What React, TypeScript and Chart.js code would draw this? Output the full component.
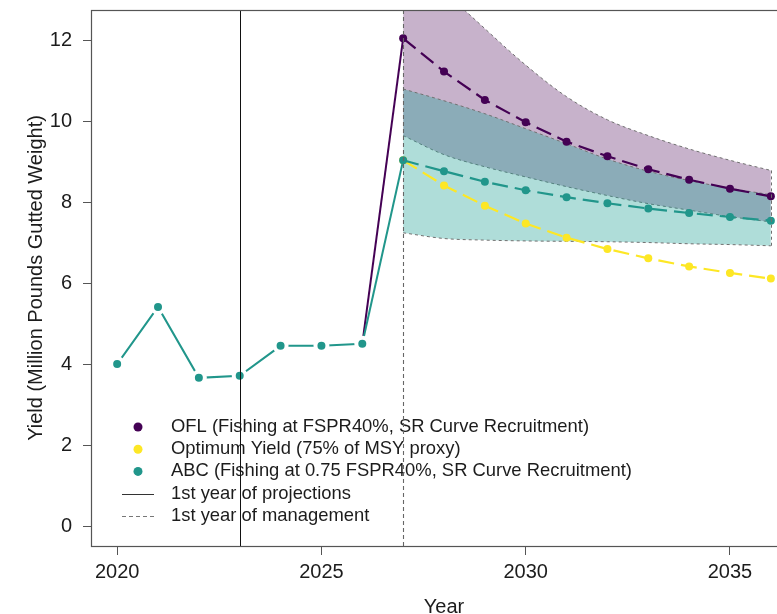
import React, { useEffect, useRef } from "react";
import { Chart, registerables } from "chart.js";

Chart.register(...registerables);

// ---------- data ----------
const HIST_YEARS = [2020, 2021, 2022, 2023, 2024, 2025, 2026];
const ABC_HIST = [4.02, 5.43, 3.68, 3.73, 4.47, 4.47, 4.52];

const PROJ_YEARS = [2027, 2028, 2029, 2030, 2031, 2032, 2033, 2034, 2035, 2036];
const OFL_PROJ = [12.06, 11.24, 10.54, 9.99, 9.51, 9.15, 8.83, 8.57, 8.35, 8.16];
const ABC_PROJ = [9.05, 8.78, 8.52, 8.31, 8.14, 7.99, 7.86, 7.75, 7.65, 7.56];
const OY_PROJ = [9.05, 8.43, 7.93, 7.49, 7.14, 6.86, 6.63, 6.43, 6.27, 6.13];

const OFL_UPPER = [14.4, 13.25, 12.3, 11.4, 10.62, 10.05, 9.66, 9.33, 9.05, 8.8];
const OFL_LOWER = [9.66, 9.19, 8.89, 8.64, 8.4, 8.18, 7.98, 7.82, 7.66, 7.53];
const ABC_UPPER = [10.81, 10.52, 10.2, 9.83, 9.46, 9.08, 8.78, 8.55, 8.36, 8.2];
const ABC_LOWER = [7.26, 7.12, 7.08, 7.06, 7.05, 7.04, 7.02, 6.99, 6.97, 6.94];

const X_TICKS = [2020, 2025, 2030, 2035];
const Y_TICKS = [0, 2, 4, 6, 8, 10, 12];
const X_MIN = 2019.36;
const X_MAX = 2036.64;
const Y_MIN = -0.47;
const Y_MAX = 12.76;

const PROJECTION_START = 2023;
const MANAGEMENT_START = 2027;

const LEGEND_LABELS = [
  "OFL (Fishing at FSPR40%, SR Curve Recruitment)",
  "Optimum Yield (75% of MSY proxy)",
  "ABC (Fishing at 0.75 FSPR40%, SR Curve Recruitment)",
  "1st year of projections",
  "1st year of management",
];

// ---------- styles ----------
const PURPLE = "#440154";
const YELLOW = "#FDE725";
const TEAL = "#21968B";
const PURPLE_FILL = "rgba(68,1,84,0.30)";
const TEAL_FILL = "rgba(33,160,150,0.36)";
const EDGE = "#707070";
const TEXT = "#1c1c1c";
const FONT = '"Liberation Sans", Arial, Helvetica, sans-serif';

const pts = (xs: number[], ys: number[]) => xs.map((x, i) => ({ x, y: ys[i] }));

const overlayPlugin = {
  id: "overlay",
  afterDatasetsDraw(chart: any) {
    const { ctx, chartArea: a, scales } = chart;
    const xs = scales.x;
    const ys = scales.y;
    ctx.save();

    // closing right edges of the bands
    ctx.save();
    ctx.beginPath();
    ctx.rect(a.left, a.top, a.right - a.left, a.bottom - a.top);
    ctx.clip();
    ctx.setLineDash([3, 3]);
    ctx.strokeStyle = EDGE;
    ctx.lineWidth = 1;
    const last = PROJ_YEARS.length - 1;
    const xl = Math.round(xs.getPixelForValue(PROJ_YEARS[last])) + 0.5;
    [
      [OFL_UPPER, OFL_LOWER],
      [ABC_UPPER, ABC_LOWER],
    ].forEach(([u, l]) => {
      ctx.beginPath();
      ctx.moveTo(xl, ys.getPixelForValue(u[last]));
      ctx.lineTo(xl, ys.getPixelForValue(l[last]));
      ctx.stroke();
    });
    ctx.restore();

    // legend
    const lx = a.left + 47;
    const tx = a.left + 80;
    const ly0 = 427;
    const step = 22.2;
    ctx.font = `18.4px ${FONT}`;
    ctx.textBaseline = "middle";
    ctx.textAlign = "left";
    const dotColors = [PURPLE, YELLOW, TEAL];
    LEGEND_LABELS.forEach((label, i) => {
      const yy = ly0 + i * step;
      if (i < 3) {
        ctx.beginPath();
        ctx.fillStyle = dotColors[i];
        ctx.arc(lx, yy, 4.5, 0, Math.PI * 2);
        ctx.fill();
      } else {
        ctx.beginPath();
        ctx.setLineDash(i === 4 ? [4, 3] : []);
        ctx.strokeStyle = i === 4 ? "#777" : "#333";
        ctx.lineWidth = 1;
        ctx.moveTo(lx - 16, Math.round(yy) + 0.5);
        ctx.lineTo(lx + 16, Math.round(yy) + 0.5);
        ctx.stroke();
        ctx.setLineDash([]);
      }
      ctx.fillStyle = TEXT;
      ctx.fillText(label, tx, yy);
    });

    // vertical reference lines
    const xp = Math.round(xs.getPixelForValue(PROJECTION_START)) + 0.5;
    ctx.beginPath();
    ctx.setLineDash([]);
    ctx.strokeStyle = "#111";
    ctx.lineWidth = 1;
    ctx.moveTo(xp, a.top);
    ctx.lineTo(xp, a.bottom);
    ctx.stroke();

    const xm = Math.round(xs.getPixelForValue(MANAGEMENT_START)) + 0.5;
    ctx.beginPath();
    ctx.setLineDash([4, 3]);
    ctx.strokeStyle = "#666";
    ctx.lineWidth = 1.1;
    ctx.moveTo(xm, a.top);
    ctx.lineTo(xm, a.bottom);
    ctx.stroke();
    ctx.setLineDash([]);

    // frame
    ctx.strokeStyle = "#555";
    ctx.lineWidth = 1.2;
    ctx.strokeRect(
      Math.round(a.left) + 0.5,
      Math.round(a.top) + 0.5,
      Math.round(a.right - a.left),
      Math.round(a.bottom - a.top)
    );
    ctx.restore();
  },
};

const bandEdge = {
  borderColor: EDGE,
  borderWidth: 1,
  borderDash: [3, 3],
  pointRadius: 0,
  cubicInterpolationMode: "monotone",
};

export default function App() {
  const ref = useRef<HTMLCanvasElement>(null);

  useEffect(() => {
    if (!ref.current) return;
    const lastH = HIST_YEARS.length - 1;
    const datasets: any[] = [
      {
        label: "OFL upper",
        data: pts(PROJ_YEARS, OFL_UPPER),
        ...bandEdge,
        fill: 1,
        backgroundColor: PURPLE_FILL,
        order: 10,
      },
      {
        label: "OFL lower",
        data: pts(PROJ_YEARS, OFL_LOWER),
        ...bandEdge,
        fill: false,
        order: 9,
      },
      {
        label: "ABC upper",
        data: pts(PROJ_YEARS, ABC_UPPER),
        ...bandEdge,
        fill: 3,
        backgroundColor: TEAL_FILL,
        order: 8,
      },
      {
        label: "ABC lower",
        data: pts(PROJ_YEARS, ABC_LOWER),
        ...bandEdge,
        fill: false,
        order: 7,
      },
      {
        label: "OFL bridge",
        data: [
          { x: HIST_YEARS[lastH], y: ABC_HIST[lastH] },
          { x: PROJ_YEARS[0], y: OFL_PROJ[0] },
        ],
        borderColor: PURPLE,
        borderWidth: 2,
        pointRadius: 0,
        fill: false,
        order: 6,
      },
      {
        label: "ABC bridge",
        data: [
          { x: HIST_YEARS[lastH], y: ABC_HIST[lastH] },
          { x: PROJ_YEARS[0], y: ABC_PROJ[0] },
        ],
        borderColor: TEAL,
        borderWidth: 2,
        pointRadius: 0,
        fill: false,
        order: 5,
      },
      {
        label: "ABC history",
        data: pts(HIST_YEARS, ABC_HIST),
        borderColor: TEAL,
        borderWidth: 2,
        pointRadius: 6,
        pointBorderWidth: 4,
        pointBorderColor: "#ffffff",
        pointBackgroundColor: TEAL,
        fill: false,
        order: 4,
      },
      {
        label: "OFL",
        data: pts(PROJ_YEARS, OFL_PROJ),
        borderColor: PURPLE,
        borderWidth: 2.2,
        borderDash: [16, 7],
        pointRadius: 4,
        pointBorderWidth: 0,
        pointBackgroundColor: PURPLE,
        fill: false,
        order: 3,
      },
      {
        label: "Optimum Yield",
        data: pts(PROJ_YEARS, OY_PROJ),
        borderColor: YELLOW,
        borderWidth: 2.2,
        borderDash: [16, 7],
        pointRadius: 4,
        pointBorderWidth: 0,
        pointBackgroundColor: YELLOW,
        fill: false,
        order: 2,
      },
      {
        label: "ABC",
        data: pts(PROJ_YEARS, ABC_PROJ),
        borderColor: TEAL,
        borderWidth: 2.2,
        borderDash: [16, 7],
        pointRadius: 4,
        pointBorderWidth: 0,
        pointBackgroundColor: TEAL,
        fill: false,
        order: 1,
      },
    ];

    const chart = new Chart(ref.current, {
      type: "line",
      data: { datasets },
      plugins: [overlayPlugin],
      options: {
        responsive: false,
        animation: false,
        events: [],
        layout: { padding: { left: 0, right: 33, top: 7, bottom: 0 } },
        plugins: {
          legend: { display: false },
          tooltip: { enabled: false },
          title: { display: false },
        },
        scales: {
          x: {
            type: "linear",
            min: X_MIN,
            max: X_MAX,
            afterBuildTicks: (s: any) => {
              s.ticks = X_TICKS.map((v) => ({ value: v }));
            },
            afterFit: (s: any) => {
              s.height = 84;
              s.paddingLeft = 0;
              s.paddingRight = 0;
            },
            ticks: {
              callback: (v: any) => String(v),
              font: { family: FONT, size: 20 },
              color: TEXT,
              padding: 5,
              maxRotation: 0,
              autoSkip: false,
            },
            grid: {
              display: true,
              drawOnChartArea: false,
              drawTicks: true,
              tickLength: 9,
              color: "#555",
              lineWidth: 1,
            },
            border: { display: false },
            title: {
              display: true,
              text: "Year",
              color: TEXT,
              font: { family: FONT, size: 20 },
              padding: { top: 0, bottom: 11 },
            },
          },
          y: {
            type: "linear",
            min: Y_MIN,
            max: Y_MAX,
            afterBuildTicks: (s: any) => {
              s.ticks = Y_TICKS.map((v) => ({ value: v }));
            },
            afterFit: (s: any) => {
              s.width = 91;
              s.paddingTop = 0;
              s.paddingBottom = 0;
            },
            ticks: {
              callback: (v: any) => String(v),
              font: { family: FONT, size: 20 },
              color: TEXT,
              padding: 11,
              autoSkip: false,
            },
            grid: {
              display: true,
              drawOnChartArea: false,
              drawTicks: true,
              tickLength: 8,
              color: "#555",
              lineWidth: 1,
            },
            border: { display: false },
            title: {
              display: true,
              text: "Yield (Million Pounds Gutted Weight)",
              color: TEXT,
              font: { family: FONT, size: 20 },
              padding: { top: 24, bottom: 0 },
            },
          },
        },
      } as any,
    });
    return () => chart.destroy();
  }, []);

  return (
    <div
      style={{
        position: "fixed",
        left: 0,
        top: 0,
        width: 777,
        height: 614,
        overflow: "hidden",
        background: "#ffffff",
      }}
    >
      <canvas
        ref={ref}
        width={830}
        height={630}
        style={{ display: "block", width: 830, height: 630 }}
      />
    </div>
  );
}
